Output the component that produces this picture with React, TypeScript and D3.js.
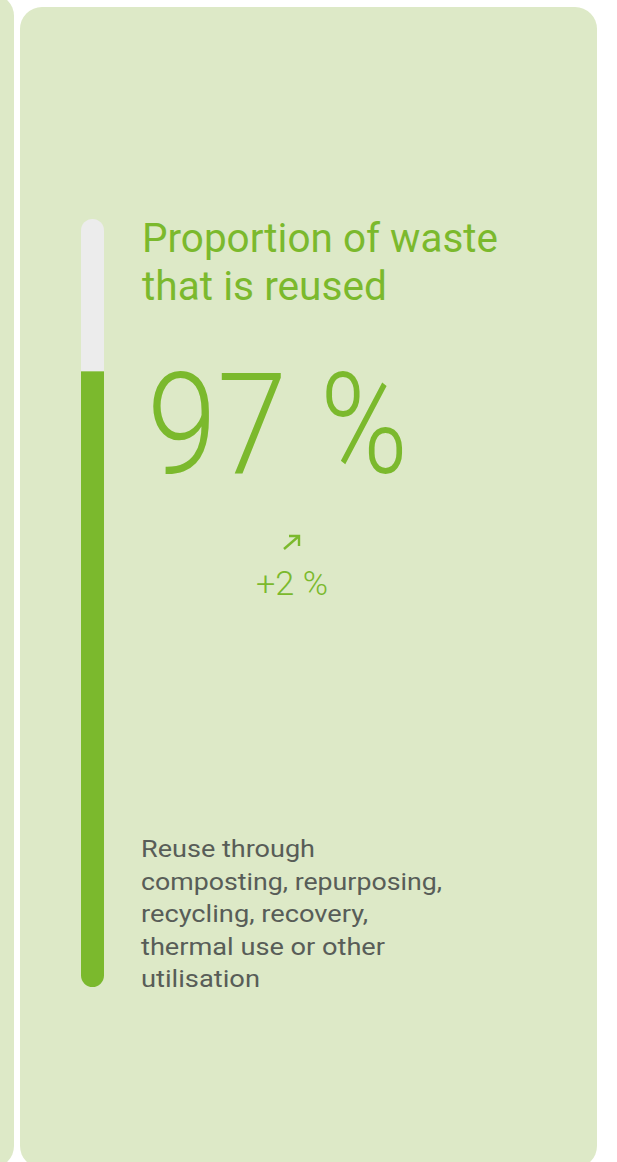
import React from "react";
import * as d3 from "d3";

// ---- data ----
const titleLines = ["Proportion of waste", "that is reused"];
const valueLabel = ["97", "%"];
const value = 97;
const scaleMax = 121;
const changeLabel = "+2 %";
const descriptionLines = [
  "Reuse through",
  "composting, repurposing,",
  "recycling, recovery,",
  "thermal use or other",
  "utilisation",
];

const W = 617;
const H = 1162;
const BG = "#dde9c7";
const GREEN = "#7bb92d";
const TRACK = "#ececec";
const GREY = "#585d58";
const FONT = "Roboto, 'Noto Sans', sans-serif";

export default function App() {
  const trackX = 81;
  const trackW = 23;
  const trackTop = 219;
  const trackBottom = 987;
  const y = d3.scaleLinear().domain([0, scaleMax]).range([trackBottom, trackTop]);
  const fillTop = y(value);

  const titleWidths = [356, 245];
  const descWidths = [174, 301, 227, 244, 119];

  return (
    <svg
      width={W}
      height={H}
      style={{ position: "absolute", left: 0, top: 0, display: "block" }}
    >
      <rect x={0} y={0} width={W} height={H} fill="#ffffff" />
      {/* left neighbouring panel */}
      <rect x={-40} y={-6} width={54} height={1174} rx={22} fill={BG} />
      {/* main panel */}
      <rect x={20} y={7} width={577} height={1161} rx={22} fill={BG} />

      <defs>
        <clipPath id="trackClip">
          <rect
            x={trackX}
            y={trackTop}
            width={trackW}
            height={trackBottom - trackTop}
            rx={trackW / 2}
          />
        </clipPath>
      </defs>
      <rect
        x={trackX}
        y={trackTop}
        width={trackW}
        height={trackBottom - trackTop}
        rx={trackW / 2}
        fill={TRACK}
      />
      <rect
        x={trackX}
        y={fillTop}
        width={trackW}
        height={trackBottom - fillTop}
        fill={GREEN}
        clipPath="url(#trackClip)"
      />

      {titleLines.map((t, i) => (
        <text
          key={t}
          x={142}
          y={252 + i * 48}
          fontFamily={FONT}
          fontSize={41}
          fill={GREEN}
          textLength={titleWidths[i]}
          lengthAdjust="spacingAndGlyphs"
        >
          {t}
        </text>
      ))}

      <text
        x={147}
        y={473}
        fontFamily={FONT}
        fontWeight={300}
        fontSize={141}
        fill={GREEN}
        textLength={140}
        lengthAdjust="spacingAndGlyphs"
      >
        {valueLabel[0]}
      </text>
      <text
        x={320}
        y={473}
        fontFamily={FONT}
        fontWeight={300}
        fontSize={141}
        fill={GREEN}
        textLength={88}
        lengthAdjust="spacingAndGlyphs"
      >
        {valueLabel[1]}
      </text>

      {/* trend arrow */}
      <g stroke={GREEN} strokeWidth={2.4} fill="none" strokeLinecap="butt">
        <line x1={284} y1={549} x2={299} y2={536} />
        <polyline points="289,536 299,536 299,546" />
      </g>
      <text
        x={256}
        y={595}
        fontFamily={FONT}
        fontWeight={300}
        fontSize={34}
        fill={GREEN}
        textLength={72}
        lengthAdjust="spacingAndGlyphs"
      >
        {changeLabel}
      </text>

      {descriptionLines.map((t, i) => (
        <text
          key={t}
          x={141}
          y={857 + i * 32.5}
          fontFamily={FONT}
          fontSize={24}
          fill={GREY}
          textLength={descWidths[i]}
          lengthAdjust="spacingAndGlyphs"
        >
          {t}
        </text>
      ))}
    </svg>
  );
}
